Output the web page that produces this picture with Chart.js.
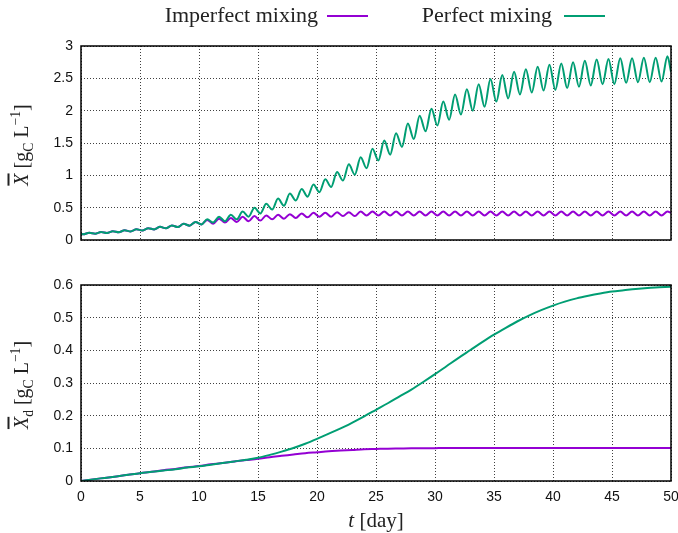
<!DOCTYPE html>
<html>
<head>
<meta charset="utf-8">
<script src="https://cdn.jsdelivr.net/npm/chart.js@4"></script>
<style>
html,body{margin:0;padding:0;background:#fff;}
#wrap{position:relative;width:678px;height:533px;overflow:hidden;font-family:"Liberation Serif","DejaVu Serif",serif;color:#222;}
canvas{position:absolute;left:0;}
.lbl{position:absolute;white-space:nowrap;}
.rot{transform:translate(-50%,-50%) rotate(-90deg);}
.ln{position:absolute;height:2px;}
sub,sup{font-size:68%;line-height:0;}
</style>
</head>
<body>
<div id="wrap">
  <canvas id="c1" width="678" height="262" style="top:0"></canvas>
  <canvas id="c2" width="678" height="271" style="top:262px"></canvas>
  <div class="lbl" id="leg1" style="font-size:22px;right:360px;top:2px;">Imperfect mixing</div>
  <div class="ln" style="left:327px;width:41px;top:15px;background:#9400d3;"></div>
  <div class="lbl" id="leg2" style="font-size:22px;right:126px;top:2px;">Perfect mixing</div>
  <div class="ln" style="left:564px;width:41px;top:15px;background:#009e73;"></div>
  <div class="lbl rot" style="font-size:20px;left:21px;top:145px;"><i style="text-decoration:overline">X</i> [g<sub>C</sub> L<sup>−1</sup>]</div>
  <div class="lbl rot" style="font-size:20px;left:21px;top:385px;"><i style="text-decoration:overline">X</i><sub>d</sub> [g<sub>C</sub> L<sup>−1</sup>]</div>
  <div class="lbl" style="font-size:21px;left:376px;top:520px;transform:translate(-50%,-50%);"><i>t</i> [day]</div>
</div>
<script>
// ---- data ----
const tTop = [0,0.2,0.7,1.2,1.7,2.2,2.7,3.2,3.7,4.2,4.7,5.2,5.7,6.2,6.7,7.2,7.7,8.2,8.7,9.2,9.7,10.2,10.7,11.2,11.7,12.2,12.7,13.2,13.7,14.2,14.7,15.2,15.7,16.2,16.7,17.2,17.7,18.2,18.7,19.2,19.7,20.2,20.7,21.2,21.7,22.2,22.7,23.2,23.7,24.2,24.7,25.2,25.7,26.2,26.7,27.2,27.7,28.2,28.7,29.2,29.7,30.2,30.7,31.2,31.7,32.2,32.7,33.2,33.7,34.2,34.7,35.2,35.7,36.2,36.7,37.2,37.7,38.2,38.7,39.2,39.7,40.2,40.7,41.2,41.7,42.2,42.7,43.2,43.7,44.2,44.7,45.2,45.7,46.2,46.7,47.2,47.7,48.2,48.7,49.2,49.7,50];
const perfectTop = [0.095,
  0.088,0.112, 0.098,0.124, 0.108,0.136, 0.120,0.150, 0.133,0.165,
  0.147,0.183, 0.163,0.203, 0.180,0.225, 0.200,0.250, 0.222,0.280,
  0.24,0.32, 0.27,0.36, 0.29,0.39, 0.32,0.44, 0.36,0.50,
  0.41,0.56, 0.47,0.64, 0.53,0.72, 0.61,0.79, 0.67,0.86,
  0.74,0.94, 0.82,1.05, 0.92,1.17, 1.01,1.28, 1.11,1.41,
  1.23,1.54, 1.32,1.65, 1.44,1.80, 1.56,1.92, 1.68,2.03,
  1.77,2.14, 1.86,2.25, 1.94,2.33, 2.00,2.41, 2.06,2.49,
  2.14,2.55, 2.19,2.60, 2.25,2.64, 2.28,2.68, 2.31,2.71,
  2.32,2.73, 2.35,2.75, 2.37,2.77, 2.39,2.79, 2.41,2.80,
  2.41,2.81, 2.43,2.81, 2.44,2.82, 2.44,2.82, 2.45,2.84,
  2.60];
const imperfectTop = [0.095,
  0.088,0.112, 0.098,0.124, 0.108,0.136, 0.120,0.150, 0.133,0.165,
  0.147,0.183, 0.163,0.203, 0.180,0.225, 0.200,0.250, 0.222,0.278,
  0.24,0.31, 0.25,0.33, 0.27,0.34, 0.28,0.36, 0.29,0.37,
  0.30,0.38, 0.32,0.39, 0.33,0.40, 0.34,0.41, 0.35,0.42,
  0.36,0.42, 0.36,0.43, 0.37,0.43, 0.37,0.44, 0.38,0.44,
  0.38,0.44, 0.38,0.44, 0.38,0.44, 0.38,0.44, 0.38,0.44,
  0.38,0.44, 0.38,0.44, 0.38,0.44, 0.38,0.44, 0.38,0.44,
  0.38,0.44, 0.38,0.44, 0.38,0.44, 0.38,0.44, 0.38,0.44,
  0.38,0.44, 0.38,0.44, 0.38,0.44, 0.38,0.44, 0.38,0.44,
  0.38,0.44, 0.38,0.44, 0.38,0.44, 0.38,0.44, 0.38,0.44,
  0.42];
const tBottom = [0,1,2,3,4,5,6,7,8,9,10,11,12,13,14,15,16,17,18,19,20,21,22,23,24,25,26,27,28,29,30,31,32,33,34,35,36,37,38,39,40,41,42,43,44,45,46,47,48,49,50];
const perfectBottom = [0,0.005,0.0095,0.014,0.019,0.024,0.028,0.032,0.036,0.041,0.045,0.05,0.055,0.06,0.065,0.071,0.08,0.09,0.101,0.114,0.129,0.145,0.161,0.179,0.198,0.218,0.238,0.259,0.28,0.303,0.327,0.352,0.377,0.401,0.425,0.448,0.469,0.489,0.507,0.523,0.537,0.549,0.559,0.567,0.574,0.58,0.584,0.588,0.591,0.593,0.595];
const imperfectBottom = [0,0.005,0.0095,0.014,0.019,0.024,0.028,0.033,0.037,0.042,0.046,0.051,0.055,0.06,0.064,0.068,0.073,0.077,0.081,0.085,0.088,0.091,0.093,0.095,0.097,0.098,0.099,0.0995,0.1,0.1,0.1005,0.101,0.101,0.101,0.101,0.101,0.101,0.101,0.101,0.101,0.101,0.101,0.101,0.101,0.101,0.101,0.101,0.101,0.101,0.101,0.101];
const xTicks = [0,5,10,15,20,25,30,35,40,45,50];

const GREEN = '#009e73', PURPLE = '#9400d3';
const pts = (xs, ys) => xs.map((x, i) => ({x: x, y: ys[i]}));
const fmt = v => String(Number(v.toFixed(2)));

const framePlugin = {
  id: 'frame',
  afterDraw(chart) {
    const a = chart.chartArea, c = chart.ctx;
    c.save();
    c.strokeStyle = '#000';
    c.lineWidth = 1.5;
    c.strokeRect(a.left, a.top, a.right - a.left, a.bottom - a.top);
    c.restore();
  }
};

function makeChart(id, dsets, yMax, yStep, showX, pad, xHeight) {
  return new Chart(document.getElementById(id), {
    type: 'line',
    data: { datasets: dsets },
    plugins: [framePlugin],
    options: {
      responsive: false,
      animation: false,
      devicePixelRatio: 1,
      layout: { padding: pad },
      plugins: { legend: { display: false }, tooltip: { enabled: false } },
      elements: { point: { radius: 0 } },
      scales: {
        x: {
          type: 'linear', min: 0, max: 50,
          afterBuildTicks: s => { s.ticks = xTicks.map(v => ({value: v})); },
          afterFit: s => { s.height = xHeight; s.paddingLeft = 0; s.paddingRight = 0; },
          grid: { color: 'rgba(0,0,0,0.75)', lineWidth: 1, drawTicks: false },
          border: { display: false, dash: [1, 2] },
          ticks: { display: showX, padding: 8, color: '#111', maxRotation: 0, callback: fmt,
                   font: { family: 'Liberation Sans, Arial, sans-serif', size: 14 } }
        },
        y: {
          min: 0, max: yMax,
          ticks: { stepSize: yStep, padding: 8, color: '#111', callback: fmt,
                   font: { family: 'Liberation Sans, Arial, sans-serif', size: 14 } },
          afterFit: s => { s.width = 81; },
          grid: { color: 'rgba(0,0,0,0.75)', lineWidth: 1, drawTicks: false },
          border: { display: false, dash: [1, 2] }
        }
      }
    }
  });
}

makeChart('c1', [
  { label: 'Perfect mixing', data: pts(tTop, perfectTop), borderColor: GREEN, borderWidth: 2, cubicInterpolationMode: 'monotone' },
  { label: 'Imperfect mixing', data: pts(tTop, imperfectTop), borderColor: PURPLE, borderWidth: 2, cubicInterpolationMode: 'monotone' }
], 3, 0.5, false, {top: 46, right: 7, left: 0, bottom: 0}, 22);

makeChart('c2', [
  { label: 'Perfect mixing', data: pts(tBottom, perfectBottom), borderColor: GREEN, borderWidth: 2, cubicInterpolationMode: 'monotone' },
  { label: 'Imperfect mixing', data: pts(tBottom, imperfectBottom), borderColor: PURPLE, borderWidth: 2, cubicInterpolationMode: 'monotone' }
], 0.6, 0.1, true, {top: 23, right: 7, left: 0, bottom: 0}, 52);
</script>
</body>
</html>
